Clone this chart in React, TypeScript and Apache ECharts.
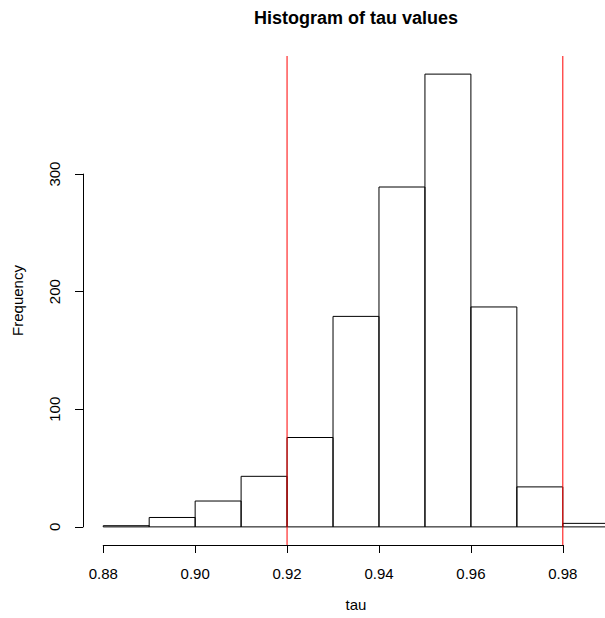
import React, { useEffect, useRef } from 'react';
import * as echarts from 'echarts';

// ---- data ----
const binStarts = [0.88, 0.89, 0.90, 0.91, 0.92, 0.93, 0.94, 0.95, 0.96, 0.97, 0.98];
const binEnds = [0.89, 0.90, 0.91, 0.92, 0.93, 0.94, 0.95, 0.96, 0.97, 0.98, 0.99];
const counts = [1, 8, 22, 43, 76, 179, 289, 385, 187, 34, 3];
const xTicks = [0.88, 0.90, 0.92, 0.94, 0.96, 0.98];
const yTicks = [0, 100, 200, 300];
const cutoffs = [0.92, 0.98];
const titleText = 'Histogram of tau values';
const xLabel = 'tau';
const yLabel = 'Frequency';

const FONT = '"Liberation Sans", Arial, Helvetica, sans-serif';

export default function App() {
  const ref = useRef<HTMLDivElement>(null);

  useEffect(() => {
    if (!ref.current) return;
    const chart = echarts.init(ref.current, undefined, { renderer: 'svg' });

    // plot region (R style, 4% padding of data range); it runs past the page's right edge
    const plot = { left: 83, top: 56, width: 546, height: 489 };
    const lo = binStarts[0];
    const hi = binEnds[binEnds.length - 1];
    const xPad = 0.04 * (hi - lo);
    const xMin = lo - xPad;
    const xMax = hi + xPad;
    const yTop = Math.max(...counts);
    const yPad = 0.04 * yTop;
    const yMin = -yPad;
    const yMax = yTop + yPad;

    const xPx = (v: number) => plot.left + ((v - xMin) / (xMax - xMin)) * plot.width;
    const yPx = (v: number) => plot.top + ((yMax - v) / (yMax - yMin)) * plot.height;

    const xt0 = xTicks[0];
    const xt1 = xTicks[xTicks.length - 1];
    const yt0 = yTicks[0];
    const yt1 = yTicks[yTicks.length - 1];
    const plotBottom = plot.top + plot.height;

    const axisText = { color: '#000', fontSize: 15, fontFamily: FONT };
    const hidden = {
      type: 'value', show: false, min: 0, max: 1,
      axisLine: { show: false }, axisTick: { show: false }, axisLabel: { show: false }, splitLine: { show: false },
    };

    chart.setOption({
      animation: false,
      backgroundColor: '#fff',
      grid: [
        { left: plot.left, top: plot.top, width: plot.width, height: plot.height, containLabel: false },
        { left: xPx(xt0), width: xPx(xt1) - xPx(xt0), top: plotBottom - 10, height: 10, containLabel: false },
        { left: plot.left, width: 10, top: yPx(yt1), height: yPx(yt0) - yPx(yt1), containLabel: false },
      ],
      xAxis: [
        {
          type: 'value', gridIndex: 0, min: xMin, max: xMax,
          axisLine: { show: false }, axisTick: { show: false }, axisLabel: { show: false }, splitLine: { show: false },
          name: xLabel, nameLocation: 'middle', nameGap: 52,
          nameTextStyle: { ...axisText },
        },
        {
          type: 'value', gridIndex: 1, min: xt0, max: xt1, interval: 0.02, position: 'bottom',
          axisLine: { show: true, onZero: false, lineStyle: { color: '#000', width: 1 } },
          axisTick: { show: true, length: 8, lineStyle: { color: '#000', width: 1 } },
          axisLabel: { show: true, margin: 21, ...axisText, formatter: (v: number) => v.toFixed(2) },
          splitLine: { show: false },
        },
        { ...hidden, gridIndex: 2 },
      ],
      yAxis: [
        {
          type: 'value', gridIndex: 0, min: yMin, max: yMax,
          axisLine: { show: false }, axisTick: { show: false }, axisLabel: { show: false }, splitLine: { show: false },
          name: yLabel, nameLocation: 'middle', nameGap: 58, nameRotate: 90,
          nameTextStyle: { ...axisText },
        },
        { ...hidden, gridIndex: 1 },
        {
          type: 'value', gridIndex: 2, min: yt0, max: yt1, interval: 100, position: 'left',
          axisLine: { show: true, onZero: false, lineStyle: { color: '#000', width: 1 } },
          axisTick: { show: true, length: 8, lineStyle: { color: '#000', width: 1 } },
          axisLabel: { show: true, margin: 21, rotate: 90, ...axisText },
          splitLine: { show: false },
        },
      ],
      graphic: {
        elements: [
          {
            type: 'text', x: plot.left + plot.width / 2, y: 18,
            style: {
              text: titleText, fill: '#000', font: `bold 18px ${FONT}`,
              align: 'center', verticalAlign: 'middle',
            },
          },
        ],
      },
      series: [
        {
          type: 'custom',
          name: 'bars',
          xAxisIndex: 0, yAxisIndex: 0,
          data: binStarts.map((s, i) => [s, binEnds[i], counts[i]]),
          encode: { x: [0, 1], y: 2 },
          renderItem: (params: any, api: any) => {
            const x0 = api.value(0);
            const x1 = api.value(1);
            const c = api.value(2);
            const p0 = api.coord([x0, c]);
            const p1 = api.coord([x1, 0]);
            return {
              type: 'rect',
              shape: { x: p0[0], y: p0[1], width: p1[0] - p0[0], height: p1[1] - p0[1] },
              style: { fill: 'none', stroke: '#000', lineWidth: 1 },
            };
          },
          silent: true,
          z: 2,
        },
        {
          type: 'custom',
          name: 'cutoffs',
          xAxisIndex: 0, yAxisIndex: 0,
          data: cutoffs.map((c) => [c]),
          encode: { x: 0 },
          renderItem: (params: any, api: any) => {
            const c = api.value(0);
            const p0 = api.coord([c, yMax]);
            const p1 = api.coord([c, yMin]);
            return {
              type: 'line',
              shape: { x1: p0[0], y1: p0[1], x2: p1[0], y2: p1[1] },
              style: { stroke: '#ff0000', lineWidth: 1 },
            };
          },
          silent: true,
          z: 5,
        },
      ],
    });

    return () => chart.dispose();
  }, []);

  return (
    <div
      style={{ position: 'absolute', left: 0, top: 0, width: 605, height: 618, overflow: 'hidden', background: '#fff' }}
    >
      <div ref={ref} style={{ width: 640, height: 618 }} />
    </div>
  );
}
